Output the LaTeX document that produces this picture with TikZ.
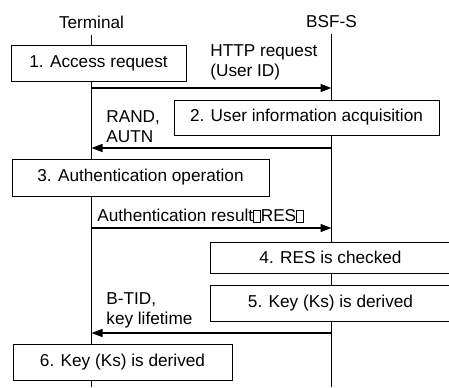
\documentclass[tikz,border=0pt]{standalone}
\usepackage{fontspec}
\setmainfont{Liberation Sans}
\usetikzlibrary{arrows.meta,positioning}

% missing-glyph box as printed in the picture
\newcommand{\tofu}{{\setlength{\fboxsep}{0pt}\setlength{\fboxrule}{0.4pt}%
  \fbox{\rule{0pt}{5.6pt}\hspace{3pt}}}}

\begin{document}
\begin{tikzpicture}[x=0.5pt,y=-0.5pt,
  actor/.style={font=\fontsize{8.6}{10}\selectfont,inner sep=0pt},
  stepbox/.style={rectangle,draw,fill=white,line width=0.5pt,
                  font=\fontsize{8.6}{10}\selectfont,inner sep=0pt},
  life/.style={line width=0.5pt},
  msg/.style={-{Triangle[length=5.5pt,width=4pt]},line width=0.65pt},
  note/.style={font=\fontsize{8.6}{10}\selectfont,align=left,
               inner sep=0pt,anchor=west}
]
  \useasboundingbox (0,0) rectangle (449,387);

  % ---- Lifelines ---------------------------------------------
  \node[actor] (term) at (91.5,22) {Terminal};
  \node[actor] (bsf)  at (331.5,22) {BSF-S};
  \coordinate (termend) at (91.5,387);
  \coordinate (bsfend)  at (331.5,387);
  \draw[life] ([yshift=-3pt]term.south) -- (termend);
  \draw[life] ([yshift=-3pt]bsf.south)  -- (bsfend);

  % ---- Step boxes --------------------------------------------
  \node[stepbox,minimum width=87.5pt,minimum height=18pt]  (s1) at (98.5,63)
    {1. Access request};
  \node[stepbox,minimum width=132.5pt,minimum height=17.5pt] (s2) at (306.5,117.5)
    {2. User information acquisition};
  \node[stepbox,minimum width=128.5pt,minimum height=18.5pt] (s3) at (140.5,177.5)
    {3. Authentication operation};
  \node[stepbox,minimum width=120.5pt,minimum height=15.5pt] (s4) at (330.5,257.5)
    {4. RES is checked};
  \node[stepbox,minimum width=120.5pt,minimum height=18pt]  (s5) at (330.5,303)
    {5. Key (Ks) is derived};
  \node[stepbox,minimum width=109.5pt,minimum height=18pt]  (s6) at (122.5,362)
    {6. Key (Ks) is derived};

  % ---- Messages ----------------------------------------------
  \draw[msg] (term |- 0,88)  -- (bsf |- 0,88);
  \node[note] (m1) at (210,62.5) {HTTP request\\(User ID)};

  \draw[msg] (bsf |- 0,148)  -- (term |- 0,148);
  \node[note] (m2) at (106,126.5) {RAND,\\AUTN};

  \draw[msg] (term |- 0,228) -- (bsf |- 0,228);
  \node[note] (m3) at (97,216) {Authentication result\tofu RES\tofu};

  \draw[msg] (bsf |- 0,333)  -- (term |- 0,333);
  \node[note] (m4) at (106,310) {B-TID,\\key lifetime};

\end{tikzpicture}
\end{document}
